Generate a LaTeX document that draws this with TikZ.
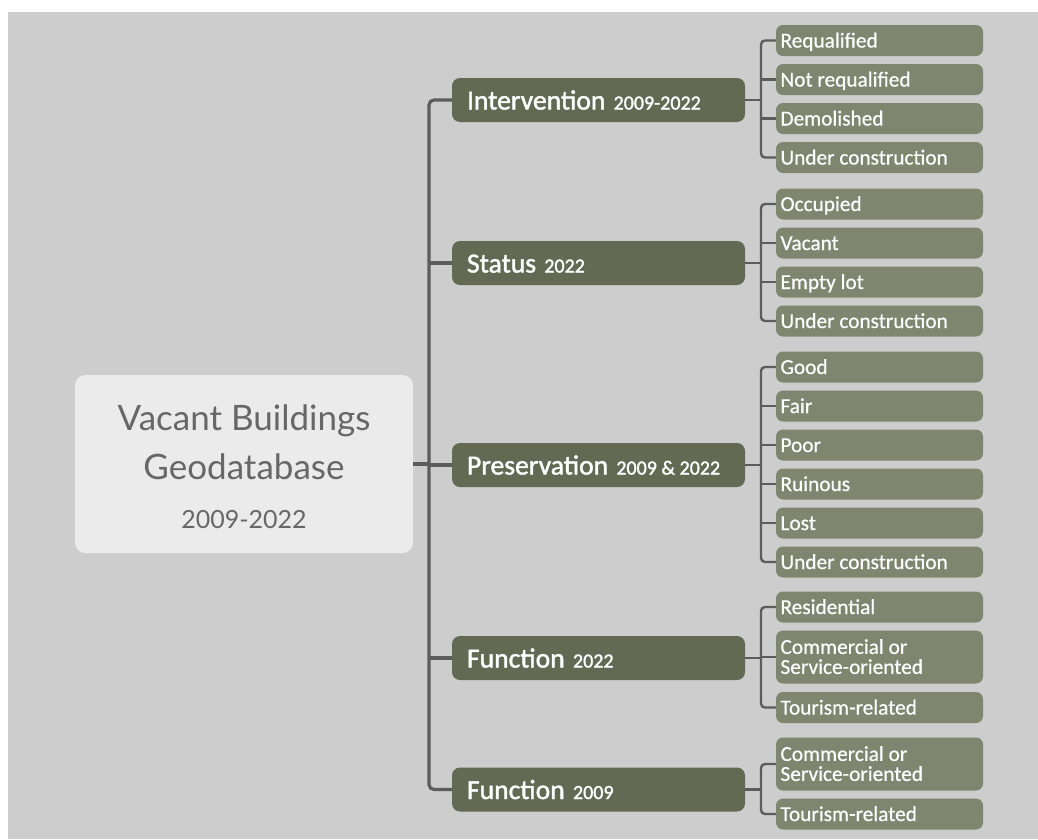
\documentclass[tikz,border=0pt]{standalone}
\usepackage{fontspec}
\setmainfont{Carlito}
\newfontfamily\catfont{Carlito}[FakeBold=1.6]
\newfontfamily\leaffont{Carlito}[FakeBold=0.6]
\newfontfamily\rootfont{Lato}

\definecolor{bg}{HTML}{CDCDCD}
\definecolor{catfill}{HTML}{636953}
\definecolor{leaffill}{HTML}{7F856F}
\definecolor{rootfill}{HTML}{EBEBEB}
\definecolor{rootink}{HTML}{676767}
\definecolor{wire}{HTML}{5C5C5C}

\newcommand{\yeartag}[1]{\hspace{2pt}{\fontsize{20}{20}\selectfont #1}}

\tikzset{
  catbox/.style={fill=catfill, rounded corners=8pt, minimum width=293pt,
    minimum height=44pt, inner xsep=15pt, inner ysep=0pt, text width=263pt,
    align=flush left, text=white, text height=21pt, text depth=2pt,
    font=\catfont\fontsize{27.6}{30}\selectfont},
  leafbase/.style={fill=leaffill, rounded corners=7pt, minimum width=207pt,
    inner xsep=4.5pt, inner ysep=0pt, text width=198pt, align=flush left,
    text=white, font=\leaffont\fontsize{21.3}{20}\selectfont},
  leafbox/.style={leafbase, minimum height=31pt, text height=15pt, text depth=1pt},
  tallleaf/.style={leafbase, minimum height=53pt},
  rootbox/.style={fill=rootfill, rounded corners=10pt, minimum width=338pt,
    minimum height=178pt, inner sep=0pt, align=center, text=rootink,
    font=\rootfont\fontsize{35}{49}\selectfont},
  trunk/.style={draw=wire, line width=3.2pt},
  branch/.style={draw=wire, line width=2.4pt},
}

\begin{document}
\begin{tikzpicture}[x=1pt, y=-1pt]
  \useasboundingbox (0,0) rectangle (1038,839);
  \fill[white] (0,0) rectangle (1038,839);
  \fill[bg] (8,12) rectangle (1038,839);

  % root
  \node[rootbox] (root) at (244,464)
    {\rule{0pt}{32pt}Vacant Buildings\\Geodatabase\\\fontsize{25}{49}\selectfont 2009-2022};

  % categories
  \node[catbox] (iv) at (598.5,100)   {Intervention \yeartag{2009-2022}};
  \node[catbox] (st) at (598.5,263)   {Status \yeartag{2022}};
  \node[catbox] (pr) at (598.5,465)   {Preservation \yeartag{2009 \& 2022}};
  \node[catbox] (fa) at (598.5,658)   {Function \yeartag{2022}};
  \node[catbox] (fb) at (598.5,789.5) {Function \yeartag{2009}};

  % intervention leaves
  \node[leafbox] (i1) at (879.5,40.5)  {Requalified};
  \node[leafbox] (i2) at (879.5,79.5)  {Not requalified};
  \node[leafbox] (i3) at (879.5,118.5) {Demolished};
  \node[leafbox] (i4) at (879.5,157.5) {Under construction};

  % status leaves
  \node[leafbox] (s1) at (879.5,204) {Occupied};
  \node[leafbox] (s2) at (879.5,243) {Vacant};
  \node[leafbox] (s3) at (879.5,282) {Empty lot};
  \node[leafbox] (s4) at (879.5,321) {Under construction};

  % preservation leaves
  \node[leafbox] (p1) at (879.5,367) {Good};
  \node[leafbox] (p2) at (879.5,406) {Fair};
  \node[leafbox] (p3) at (879.5,445) {Poor};
  \node[leafbox] (p4) at (879.5,484) {Ruinous};
  \node[leafbox] (p5) at (879.5,523) {Lost};
  \node[leafbox] (p6) at (879.5,562) {Under construction};

  % function 2022 leaves
  \node[leafbox]  (a1) at (879.5,607)   {Residential};
  \node[tallleaf] (a2) at (879.5,657)   {\rule{0pt}{14.5pt}Commercial or\\Service-oriented\rule[-1pt]{0pt}{1pt}};
  \node[leafbox]  (a3) at (879.5,707.5) {Tourism-related};

  % function 2009 leaves
  \node[tallleaf] (b1) at (879.5,764) {\rule{0pt}{14.5pt}Commercial or\\Service-oriented\rule[-1pt]{0pt}{1pt}};
  \node[leafbox]  (b2) at (879.5,814) {Tourism-related};

  % spine positions
  \coordinate (tx) at (429,0);
  \coordinate (bx) at (761,0);

  % trunk
  \draw[trunk] (root.east) -- (root.east -| tx);
  \draw[trunk, rounded corners=5pt] (iv.west) -- (iv.west -| tx) -- (tx |- fb.west) -- (fb.west);
  \draw[trunk] (st.west) -- (st.west -| tx);
  \draw[trunk] (pr.west) -- (pr.west -| tx);
  \draw[trunk] (fa.west) -- (fa.west -| tx);

  % intervention bracket
  \draw[branch] (iv.east) -- (iv.east -| bx);
  \draw[branch, rounded corners=4pt] (i1.west) -- (i1.west -| bx) -- (bx |- i4.west) -- (i4.west);
  \draw[branch] (i2.west) -- (i2.west -| bx);
  \draw[branch] (i3.west) -- (i3.west -| bx);

  % status bracket
  \draw[branch] (st.east) -- (st.east -| bx);
  \draw[branch, rounded corners=4pt] (s1.west) -- (s1.west -| bx) -- (bx |- s4.west) -- (s4.west);
  \draw[branch] (s2.west) -- (s2.west -| bx);
  \draw[branch] (s3.west) -- (s3.west -| bx);

  % preservation bracket
  \draw[branch] (pr.east) -- (pr.east -| bx);
  \draw[branch, rounded corners=4pt] (p1.west) -- (p1.west -| bx) -- (bx |- p6.west) -- (p6.west);
  \draw[branch] (p2.west) -- (p2.west -| bx);
  \draw[branch] (p3.west) -- (p3.west -| bx);
  \draw[branch] (p4.west) -- (p4.west -| bx);
  \draw[branch] (p5.west) -- (p5.west -| bx);

  % function 2022 bracket
  \draw[branch] (fa.east) -- (fa.east -| bx);
  \draw[branch, rounded corners=4pt] (a1.west) -- (a1.west -| bx) -- (bx |- a3.west) -- (a3.west);
  \draw[branch] (a2.west) -- (a2.west -| bx);

  % function 2009 bracket
  \draw[branch] (fb.east) -- (fb.east -| bx);
  \draw[branch, rounded corners=4pt] (b1.west) -- (b1.west -| bx) -- (bx |- b2.west) -- (b2.west);
\end{tikzpicture}
\end{document}
